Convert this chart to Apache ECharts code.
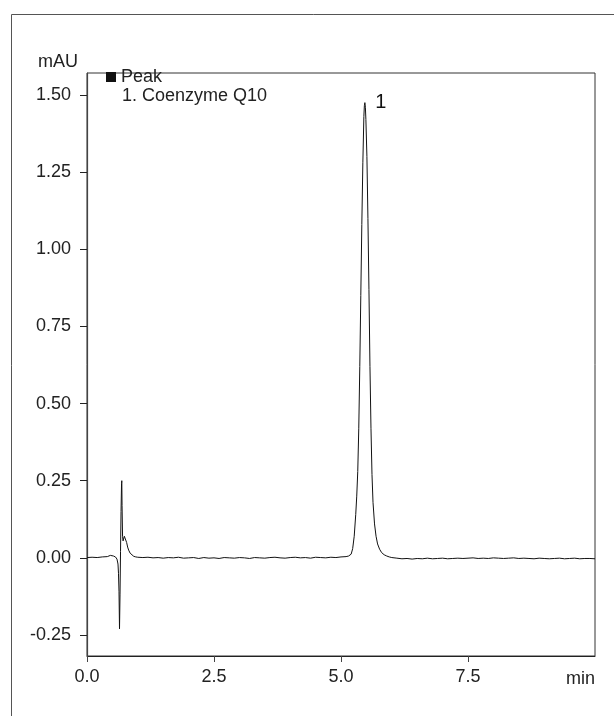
<!DOCTYPE html>
<html>
<head>
<meta charset="utf-8">
<script src="https://cdn.jsdelivr.net/npm/echarts@6/dist/echarts.min.js"></script>
<style>
  html, body { margin: 0; padding: 0; background: #fff; }
  #chart { width: 614px; height: 716px; }
</style>
</head>
<body>
<div id="chart"></div>
<script>
// retention time (min) and absorbance (mAU)
const times = [
  0.0, 0.1, 0.2, 0.3, 0.4, 0.46, 0.52, 0.56, 0.59, 0.61, 0.62, 0.63, 0.64, 0.65, 0.66,
  0.67, 0.68, 0.685, 0.69, 0.70, 0.71, 0.72, 0.735, 0.75, 0.765, 0.78, 0.80, 0.82, 0.85,
  0.88, 0.92, 0.96, 1.0, 1.1, 1.2, 1.3, 1.4, 1.5, 1.6, 1.7, 1.8, 1.9, 2.0, 2.1, 2.2, 2.3,
  2.4, 2.5, 2.6, 2.7, 2.8, 2.9, 3.0, 3.1, 3.2, 3.3, 3.4, 3.5, 3.6, 3.7, 3.8, 3.9, 4.0,
  4.1, 4.2, 4.3, 4.4, 4.5, 4.6, 4.7, 4.8, 4.9, 5.0, 5.1, 5.15, 5.2, 5.23, 5.26, 5.29,
  5.31, 5.33, 5.35, 5.37, 5.39, 5.41, 5.43, 5.45, 5.46, 5.47, 5.48, 5.49, 5.51, 5.53,
  5.55, 5.57, 5.59, 5.61, 5.63, 5.66, 5.69, 5.72, 5.76, 5.80, 5.85, 5.90, 5.95, 6.0,
  6.1, 6.2, 6.3, 6.4, 6.5, 6.6, 6.7, 6.8, 6.9, 7.0, 7.1, 7.2, 7.3, 7.4, 7.5, 7.6, 7.7,
  7.8, 7.9, 8.0, 8.1, 8.2, 8.3, 8.4, 8.5, 8.6, 8.7, 8.8, 8.9, 9.0, 9.1, 9.2, 9.3, 9.4,
  9.5, 9.6, 9.7, 9.8, 9.9, 10.0
];
const signal = [
  0.001, 0.002, 0.001, 0.003, 0.004, 0.008, 0.006, 0.003, -0.004, -0.02, -0.05, -0.11, -0.23, -0.12, 0.02,
  0.15, 0.24, 0.25, 0.17, 0.07, 0.055, 0.06, 0.07, 0.075, 0.068, 0.05, 0.035, 0.025, 0.015,
  0.009, 0.005, 0.003, 0.002, 0.001, 0.002, 0.000, 0.001, -0.001, 0.001, 0.000, 0.002, -0.001, 0.000, 0.001, -0.002, 0.001,
  -0.001, 0.000, -0.002, 0.001, 0.000, -0.001, 0.001, 0.000, -0.002, 0.001, 0.000, -0.001, 0.001, 0.002, 0.000, -0.001, 0.001,
  0.002, 0.000, 0.001, -0.001, 0.002, 0.001, 0.000, 0.002, 0.001, 0.003, 0.004, 0.006, 0.012, 0.03, 0.07, 0.14,
  0.2, 0.28, 0.42, 0.62, 0.85, 1.08, 1.28, 1.43, 1.465, 1.475, 1.46, 1.42, 1.3, 1.1,
  0.87, 0.62, 0.42, 0.27, 0.18, 0.11, 0.07, 0.045, 0.028, 0.017, 0.01, 0.006, 0.003, 0.001,
  -0.001, -0.003, -0.002, -0.004, -0.002, -0.003, -0.001, -0.003, -0.002, -0.001, -0.003, -0.002, -0.001, -0.002, -0.001, 0.000, -0.002,
  -0.001, -0.002, 0.000, -0.001, -0.002, -0.001, 0.000, -0.002, -0.001, -0.002, -0.003, -0.001, -0.002, -0.003, -0.002, -0.001, -0.003,
  -0.002, -0.001, -0.003, -0.002, -0.002, -0.003
];
const xTicks = [0, 2.5, 5, 7.5];
const yTicks = [-0.25, 0, 0.25, 0.5, 0.75, 1.0, 1.25, 1.5];
const peakLabels = ['1'];
const peakPos = [[5.47, 1.475]];

const myChart = echarts.init(document.getElementById('chart'));
const font = 'Liberation Sans, Arial, sans-serif';

const option = {
  animation: false,
  grid: {
    left: 87, top: 73, right: 19, bottom: 60,
    show: true, borderColor: '#333', borderWidth: 1
  },
  xAxis: {
    type: 'value', min: 0, max: 10,
    splitLine: { show: false },
    axisLine: { onZero: false, lineStyle: { color: '#222', width: 1 } },
    axisTick: { customValues: xTicks, length: 6, lineStyle: { color: '#444' } },
    axisLabel: {
      customValues: xTicks, margin: 12, color: '#222',
      fontFamily: font, fontSize: 18,
      formatter: v => v.toFixed(1)
    }
  },
  yAxis: {
    type: 'value', min: -0.318, max: 1.571,
    splitLine: { show: false },
    axisLine: { show: true, onZero: false, lineStyle: { color: '#444', width: 1.2 } },
    axisTick: { show: true, customValues: yTicks, length: 7, lineStyle: { color: '#222' } },
    axisLabel: {
      customValues: yTicks, margin: 16, color: '#222',
      fontFamily: font, fontSize: 18,
      formatter: v => v.toFixed(2)
    }
  },
  series: [{
    type: 'line',
    data: times.map((t, i) => [t, signal[i]]),
    showSymbol: false,
    lineStyle: { color: '#111', width: 1 },
    markPoint: {
      symbol: 'circle', symbolSize: 0,
      label: {
        show: true, color: '#111', fontFamily: font, fontSize: 20,
        offset: [16, 0], formatter: p => p.name
      },
      data: peakPos.map((c, i) => ({ coord: c, name: peakLabels[i] }))
    }
  }],
  graphic: [
    {
      type: 'rect', silent: true,
      shape: { x: 11.5, y: 14.5, width: 700, height: 800 },
      style: { fill: 'none', stroke: '#555', lineWidth: 1 }
    },
    { type: 'text', left: 38, top: 53, style: { text: 'mAU', font: '18px ' + font, fill: '#222' } },
    { type: 'rect', shape: { x: 106, y: 72, width: 10, height: 10 }, style: { fill: '#111' } },
    { type: 'text', left: 121, top: 68, style: { text: 'Peak', font: '18px ' + font, fill: '#222' } },
    { type: 'text', left: 122, top: 87, style: { text: '1. Coenzyme Q10', font: '18px ' + font, fill: '#222' } },
    { type: 'text', right: 19, top: 670, style: { text: 'min', font: '18px ' + font, fill: '#222' } }
  ]
};

myChart.setOption(option);
</script>
</body>
</html>
